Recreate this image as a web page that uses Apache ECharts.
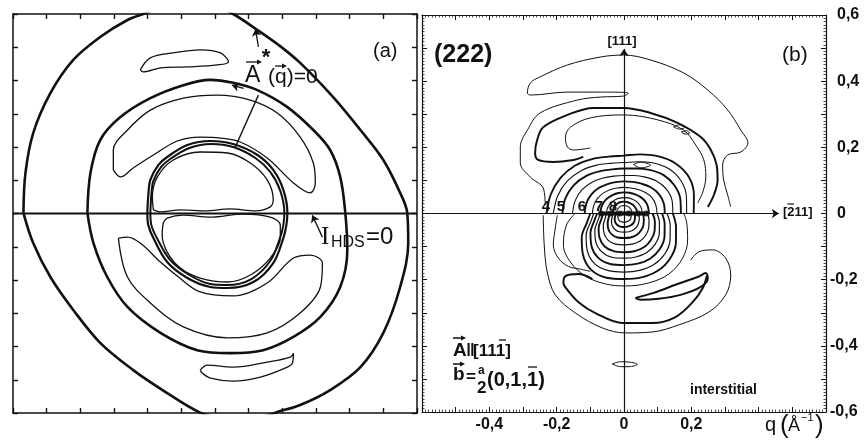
<!DOCTYPE html>
<html>
<head>
<meta charset="utf-8">
<script src="https://cdn.jsdelivr.net/npm/echarts@6/dist/echarts.min.js"></script>
<style>
html,body{margin:0;padding:0;background:#fff}
#chart{width:864px;height:444px}
</style>
</head>
<body>
<div id="chart"></div>
<script>
// ---------- panel (a): contour lines, in units of the tick spacing ----------
const curveOuter = [[-5.69,0.02],[-5.63,1.22],[-5.40,2.42],[-4.89,3.62],[-4.21,4.62],[-3.41,5.31],[-2.60,5.82],[-2.13,6.0],[-1.48,6.24],[-0.73,6.33],[0.01,6.24],[0.54,6.0],[1.26,5.52],[1.9,5.06],[2.53,4.53],[3.51,3.50],[4.32,2.51],[5.00,1.61],[5.50,0.62],[5.71,0.02],[5.74,-0.89],[5.50,-2.21],[5.00,-3.59],[4.32,-4.62],[3.42,-5.31],[2.53,-5.76],[1.85,-5.97],[1.49,-6.09],[0.90,-6.18],[0.16,-6.15],[-0.44,-5.99],[-1.42,-5.40],[-2.43,-4.71],[-3.41,-3.89],[-4.21,-2.90],[-4.89,-1.91],[-5.40,-0.89]];
const curveMiddle = [[-3.79,0.02],[-3.70,1.22],[-3.41,2.21],[-2.81,2.90],[-1.92,3.47],[-0.94,3.86],[-0.14,4.02],[0.54,3.93],[1.26,3.71],[2.15,3.20],[2.92,2.51],[3.42,1.91],[3.72,1.10],[3.87,0.02],[3.93,-1.10],[3.72,-2.21],[3.13,-3.11],[2.33,-3.71],[1.43,-4.11],[0.45,-4.20],[-0.53,-4.11],[-1.62,-3.59],[-2.60,-2.81],[-3.20,-1.91],[-3.61,-0.89]];
const ringOuter = [[-2.01,0.02],[-1.98,0.56],[-1.92,1.01],[-1.68,1.46],[-1.42,1.70],[-0.82,2.06],[-0.14,2.18],[0.54,2.09],[1.26,1.76],[1.73,1.31],[2.03,0.71],[2.15,0.02],[2.12,-0.35],[2.03,-0.74],[1.73,-1.49],[1.14,-2.06],[0.37,-2.24],[-0.14,-2.21],[-0.82,-1.94],[-1.42,-1.46],[-1.83,-0.74],[-1.98,-0.35]];
const ringInner = [[-1.92,0.02],[-1.89,0.56],[-1.83,0.98],[-1.60,1.40],[-1.33,1.64],[-0.76,1.97],[-0.11,2.09],[0.54,2.00],[1.20,1.67],[1.64,1.25],[1.94,0.68],[2.06,0.02],[2.03,-0.35],[1.94,-0.71],[1.64,-1.43],[1.08,-1.97],[0.37,-2.15],[-0.14,-2.12],[-0.76,-1.85],[-1.33,-1.40],[-1.74,-0.71],[-1.89,-0.35]];
const coreUpper = [[-1.83,0.11],[-1.86,0.50],[-1.71,1.10],[-1.24,1.61],[-0.44,1.85],[0.37,1.82],[1.05,1.52],[1.55,1.01],[1.73,0.41],[1.64,0.20],[1.20,0.08],[0.45,0.14],[-0.29,0.08],[-1.03,0.11],[-1.62,0.05]];
const coreLower = [[-1.54,-0.29],[-1.57,-0.65],[-1.42,-1.16],[-1.03,-1.64],[-0.44,-1.94],[0.37,-2.06],[1.05,-1.85],[1.64,-1.34],[1.94,-0.74],[1.94,-0.35],[1.64,-0.11],[0.84,-0.02],[-0.14,-0.11],[-0.94,-0.05],[-1.42,-0.14]];
const bandUpper = [[-3.02,1.31],[-3.02,1.91],[-2.60,2.51],[-1.92,3.11],[-0.94,3.47],[0.07,3.56],[1.05,3.41],[1.85,3.02],[2.53,2.30],[2.92,1.52],[2.98,0.92],[2.83,0.62],[2.33,0.92],[1.55,1.67],[0.75,2.15],[0.16,2.27],[-0.44,2.30],[-1.12,2.18],[-1.83,1.76],[-2.43,1.37],[-2.81,1.10]];
const bandLower = [[-2.87,-0.74],[-2.60,-1.91],[-1.92,-2.69],[-0.94,-3.41],[0.37,-3.74],[1.55,-3.59],[2.53,-2.99],[3.13,-2.21],[3.19,-1.49],[2.83,-1.25],[2.33,-1.34],[1.55,-2.09],[0.54,-2.48],[-0.44,-2.36],[-1.12,-1.88],[-1.62,-1.46],[-2.22,-0.89],[-2.60,-0.71]];
const islandTop = [[-2.22,4.32],[-1.92,4.68],[-1.24,4.83],[-0.44,4.92],[0.16,4.83],[0.40,4.56],[0.07,4.47],[-0.82,4.41],[-1.62,4.38],[-2.13,4.26]];
const islandBottom = [[-0.44,-4.71],[-0.23,-4.56],[0.54,-4.62],[1.55,-4.47],[2.24,-4.32],[2.33,-4.20],[2.30,-4.50],[2.15,-4.62],[1.35,-4.92],[0.54,-5.04],[-0.14,-4.95],[-0.38,-4.80]];

// ---------- panel (b): contour lines in q (1/Å) ----------
const snakeUpper = [[0.317,0.020],[0.308,0.056],[0.296,0.101],[0.293,0.147],[0.308,0.177],[0.347,0.186],[0.368,0.213],[0.347,0.252],[0.308,0.313],[0.249,0.373],[0.177,0.425],[0.079,0.464],[-0.001,0.479],[-0.070,0.473],[-0.168,0.449],[-0.249,0.413],[-0.278,0.395],[-0.287,0.364],[-0.278,0.358],[-0.168,0.367],[-0.070,0.367],[0.013,0.364],[-0.001,0.355],[-0.070,0.352],[-0.138,0.343],[-0.249,0.304],[-0.287,0.252],[-0.308,0.201],[-0.308,0.153],[-0.278,0.110],[-0.240,0.077],[-0.234,0.026]];
const snakeLower = [[-0.240,-0.005],[-0.237,-0.095],[-0.228,-0.177],[-0.204,-0.246],[-0.144,-0.301],[-0.064,-0.346],[0.004,-0.361],[0.085,-0.358],[0.162,-0.337],[0.252,-0.298],[0.302,-0.246],[0.317,-0.186],[0.302,-0.135],[0.264,-0.110],[0.222,-0.116],[0.198,-0.141]];
const bandThick = [[-0.121,0.171],[-0.150,0.162],[-0.210,0.156],[-0.255,0.162],[-0.264,0.183],[-0.258,0.222],[-0.240,0.261],[-0.168,0.298],[-0.091,0.319],[-0.001,0.319],[0.079,0.304],[0.159,0.274],[0.228,0.231],[0.258,0.192],[0.275,0.147],[0.278,0.101],[0.267,0.056],[0.249,0.020]];
const bandThin = [[-0.100,0.198],[-0.150,0.192],[-0.168,0.201],[-0.174,0.231],[-0.159,0.261],[-0.100,0.289],[-0.001,0.298],[0.100,0.283],[0.177,0.252],[0.213,0.207],[0.237,0.162],[0.243,0.110],[0.234,0.065],[0.219,0.032]];
const wrapLower = [[-0.144,0.002],[-0.171,-0.035],[-0.180,-0.095],[-0.159,-0.147],[-0.115,-0.189],[-0.055,-0.213],[0.004,-0.219],[0.073,-0.210],[0.133,-0.183],[0.174,-0.135],[0.189,-0.080],[0.186,-0.026],[0.177,0.002]];
const wrapLeft = [[-0.198,-0.005],[-0.205,-0.050],[-0.210,-0.095],[-0.195,-0.135],[-0.165,-0.160],[-0.130,-0.168],[-0.100,-0.175]];
const troughArc = [[-0.094,-0.198],[-0.135,-0.183],[-0.174,-0.189],[-0.180,-0.210],[-0.168,-0.231],[-0.135,-0.268],[-0.085,-0.301],[-0.004,-0.331],[0.085,-0.331],[0.153,-0.313],[0.204,-0.268],[0.234,-0.225],[0.246,-0.189]];
const troughRight = [[0.034,-0.255],[0.088,-0.240],[0.159,-0.213],[0.219,-0.192],[0.243,-0.180],[0.249,-0.195],[0.228,-0.222],[0.168,-0.246],[0.103,-0.258],[0.049,-0.261]];
const lensBottom = [[-0.035,-0.455],[-0.010,-0.448],[0.015,-0.449],[0.040,-0.456],[0.015,-0.463],[-0.010,-0.463]];
const lensRim = [[0.147,0.262],[0.165,0.268],[0.180,0.260],[0.165,0.255]];
const lensRim2 = [[0.170,0.247],[0.185,0.250],[0.195,0.243],[0.182,0.240]];
const lensTop = [[0.028,0.148],[0.050,0.155],[0.079,0.146],[0.050,0.138]];
const coreDots = [[-0.068,0],[-0.040,0],[-0.012,0],[0.014,0],[0.042,0],[0.066,0]];

// Lobes around the origin: radius (1/Å) at each polar angle (deg)
const anglesUpper = [0,15,30,45,60,75,90,105,120,135,150,165,180];
const anglesLower = [180,195,210,225,240,255,270,285,300,315,330,345,360];
const lobesUpper = [
  [0.207,0.215,0.222,0.215,0.200,0.185,0.175,0.178,0.190,0.205,0.217,0.225,0.230],
  [0.186,0.192,0.196,0.190,0.176,0.162,0.154,0.157,0.168,0.182,0.195,0.204,0.210],
  [0.169,0.173,0.172,0.165,0.152,0.141,0.136,0.138,0.147,0.160,0.172,0.180,0.183],
  [0.145,0.148,0.146,0.138,0.127,0.119,0.115,0.117,0.124,0.134,0.144,0.150,0.153],
  [0.121,0.122,0.119,0.112,0.104,0.099,0.097,0.098,0.102,0.108,0.113,0.116,0.117],
  [0.098,0.098,0.096,0.090,0.084,0.080,0.079,0.080,0.083,0.087,0.091,0.093,0.094],
  [0.074,0.074,0.073,0.070,0.067,0.065,0.064,0.064,0.065,0.067,0.069,0.070,0.070],
  [0.054,0.054,0.053,0.052,0.050,0.049,0.048,0.048,0.049,0.050,0.051,0.052,0.052],
  [0.039,0.039,0.038,0.037,0.036,0.036,0.036,0.036,0.036,0.035,0.035,0.034,0.034],
  [0.024,0.024,0.024,0.024,0.024,0.024,0.024,0.024,0.024,0.023,0.023,0.022,0.022]
];
const lobesLower = [
  [0.100,0.115,0.145,0.173,0.196,0.201,0.198,0.200,0.200,0.193,0.178,0.160,0.145],
  [0.090,0.103,0.130,0.155,0.175,0.179,0.177,0.178,0.178,0.172,0.158,0.142,0.128],
  [0.080,0.092,0.115,0.137,0.154,0.158,0.156,0.157,0.157,0.151,0.139,0.125,0.113],
  [0.070,0.080,0.100,0.119,0.133,0.137,0.135,0.136,0.136,0.131,0.121,0.109,0.098],
  [0.062,0.070,0.087,0.103,0.115,0.118,0.117,0.118,0.118,0.113,0.105,0.095,0.085],
  [0.052,0.058,0.071,0.084,0.094,0.096,0.095,0.096,0.096,0.092,0.085,0.077,0.070],
  [0.042,0.047,0.056,0.066,0.073,0.075,0.074,0.075,0.075,0.072,0.067,0.061,0.055],
  [0.033,0.036,0.043,0.050,0.055,0.057,0.056,0.057,0.057,0.055,0.051,0.047,0.042],
  [0.025,0.027,0.032,0.037,0.040,0.041,0.041,0.041,0.041,0.040,0.037,0.034,0.031],
  [0.017,0.018,0.021,0.024,0.026,0.026,0.026,0.026,0.026,0.026,0.024,0.022,0.020]
];

// tick labels shown on panel (b), in tenths of 1/Å
const bottomLabelTenths = [-4,-2,0,2];
const rightLabelTenths = [-6,-4,-2,0,2,4,6];

const INK = '#111';
const FONT = '"Liberation Sans", Arial, sans-serif';

function polar(radii, angles) {
  return radii.map((r, i) => {
    const a = angles[i] * Math.PI / 180;
    return [r * Math.cos(a), r * Math.sin(a)];
  });
}

function curve(pts, width, panel, closed) {
  return {
    type: 'line',
    xAxisIndex: panel === 0 ? 0 : 2,
    yAxisIndex: panel === 0 ? 0 : 2,
    data: closed ? pts.concat([pts[0]]) : pts,
    symbol: 'none', showSymbol: false, smooth: 0.35,
    lineStyle: { color: INK, width: width },
    silent: true, animation: false, z: 3
  };
}

function arrows(list, panel, withHead, width) {
  return {
    type: 'lines', coordinateSystem: 'cartesian2d',
    xAxisIndex: panel === 0 ? 0 : 2, yAxisIndex: panel === 0 ? 0 : 2,
    symbol: withHead ? ['none', 'arrow'] : ['none', 'none'], symbolSize: 7,
    lineStyle: { color: INK, width: width, opacity: 1 },
    data: list.map(c => ({ coords: c })), silent: true, animation: false, z: 4
  };
}

function tenthsLabel(k) {
  if (k === 0) return '0';
  return (k < 0 ? '-' : '') + '0,' + Math.abs(k);
}

function frameAxis(gridIndex, position, min, max, interval, isB) {
  const ax = {
    type: 'value', gridIndex: gridIndex, position: position,
    min: min, max: max, interval: interval,
    axisLine: { show: true, onZero: false, lineStyle: { color: INK, width: isB ? 1.2 : 1.5 } },
    splitLine: { show: false },
    axisLabel: { show: false },
    axisTick: { show: true, inside: true, length: 5, lineStyle: { color: INK, width: isB ? 1 : 1.4 } }
  };
  if (isB) {
    ax.minorTick = { show: true, splitNumber: 10, length: 2.5, lineStyle: { color: '#222', width: 0.8 } };
  }
  return ax;
}

const xBottomB = frameAxis(1, 'bottom', -0.6, 0.6, 0.1, true);
xBottomB.axisLabel = {
  show: true, margin: 5, color: INK, fontFamily: FONT, fontWeight: 'bold', fontSize: 16,
  formatter: v => { const k = Math.round(v * 10); return bottomLabelTenths.includes(k) ? tenthsLabel(k) : ''; }
};
const yRightB = frameAxis(1, 'right', -0.6, 0.6, 0.1, true);
yRightB.axisLabel = {
  show: true, margin: 4, color: INK, fontFamily: FONT, fontWeight: 'bold', fontSize: 16,
  showMinLabel: true, showMaxLabel: true,
  formatter: v => {
    const k = Math.round(v * 10);
    if (!rightLabelTenths.includes(k)) return '';
    return (k < 0 ? '{n|' : '{p|') + tenthsLabel(k) + '}';
  },
  rich: {
    n: { fontFamily: FONT, fontWeight: 'bold', fontSize: 16, color: INK },
    p: { fontFamily: FONT, fontWeight: 'bold', fontSize: 16, color: INK, padding: [0, 0, 0, 7] }
  }
};

const series = [];
// panel (a)
series.push(curve([[-6, 0], [6, 0]], 2, 0, false));
series.push(curve(curveOuter, 2.6, 0, true));
series.push(curve(curveMiddle, 2.6, 0, true));
series.push(curve(ringOuter, 2.2, 0, true));
series.push(curve(ringInner, 2.0, 0, true));
series.push(curve(coreUpper, 1.3, 0, true));
series.push(curve(coreLower, 1.3, 0, true));
series.push(curve(bandUpper, 1.3, 0, true));
series.push(curve(bandLower, 1.3, 0, true));
series.push(curve(islandTop, 1.3, 0, true));
series.push(curve(islandBottom, 1.3, 0, true));
series.push(arrows([[[1.29, 3.56], [0.60, 1.99]]], 0, false, 1.4));
series.push(arrows([[[1.29, 5.01], [1.20, 5.55]], [[3.19, -0.71], [2.89, -0.05]], [[0.85, 3.76], [0.50, 3.86]]], 0, true, 1.3));

// panel (b)
series.push(arrows([[[-0.6, 0], [0.46, 0]], [[0, -0.6], [0, 0.497]]], 1, true, 1.2));
series.push(curve(snakeUpper, 1.0, 1, false));
series.push(curve(snakeLower, 1.0, 1, false));
series.push(curve(bandThick, 2.0, 1, false));
series.push(curve(bandThin, 1.0, 1, false));
series.push(curve(wrapLower, 1.0, 1, false));
series.push(curve(wrapLeft, 1.0, 1, false));
series.push(curve(troughArc, 2.0, 1, false));
series.push(curve(troughRight, 2.0, 1, true));
series.push(curve(lensBottom, 1.0, 1, true));
series.push(curve(lensRim, 1.0, 1, true));
series.push(curve(lensRim2, 1.0, 1, true));
series.push(curve(lensTop, 1.0, 1, true));
lobesUpper.forEach((r, i) => series.push(curve(polar(r, anglesUpper), i % 2 === 0 ? 1.9 : 1.1, 1, false)));
lobesLower.forEach((r, i) => series.push(curve(polar(r, anglesLower), i % 2 === 0 ? 1.9 : 1.2, 1, false)));
series.push(curve([[-0.075, 0], [0.075, 0]], 4, 1, false));
series.push({
  type: 'scatter', xAxisIndex: 2, yAxisIndex: 2, data: coreDots,
  symbolSize: 6, itemStyle: { color: INK }, silent: true, animation: false, z: 5
});

function txt(x, y, text, size, opts) {
  opts = opts || {};
  return {
    type: 'text', x: x, y: y, z: 100, silent: true,
    style: {
      text: text, fill: INK,
      font: (opts.weight || 'normal') + ' ' + size + 'px ' + (opts.family || FONT),
      textAlign: opts.align || 'left', textVerticalAlign: 'middle'
    }
  };
}
function seg(x1, y1, x2, y2, w) {
  return { type: 'line', z: 100, silent: true, shape: { x1: x1, y1: y1, x2: x2, y2: y2 }, style: { stroke: INK, lineWidth: w || 1.3 } };
}
function head(x, y) {
  return { type: 'polygon', z: 100, silent: true, shape: { points: [[x, y], [x - 5, y - 2.5], [x - 5, y + 2.5]] }, style: { fill: INK } };
}

const graphic = [
  // panel (a)
  txt(373, 51, '(a)', 20),
  txt(245, 76, 'A', 23),
  txt(268, 77, '(q)=0', 21),
  seg(246, 62, 258, 62), head(262, 62),
  seg(275, 66, 283, 66), head(287, 66),
  txt(266, 58, '*', 22, { weight: 'bold', align: 'center' }),
  txt(321, 237, 'I', 25, { family: '"Liberation Serif", serif' }),
  txt(331, 243, 'HDS', 16),
  txt(366, 237, '=0', 24),
  // panel (b)
  txt(434, 55, '(222)', 25, { weight: 'bold' }),
  txt(782, 55, '(b)', 21),
  txt(622, 41, '[111]', 13, { weight: 'bold', align: 'center' }),
  txt(783, 212, '[211]', 13, { weight: 'bold' }),
  seg(787.5, 204, 794, 204, 1.2),
  txt(546, 207, '4', 15, { weight: 'bold', align: 'center' }),
  txt(561, 207, '5', 15, { weight: 'bold', align: 'center' }),
  txt(582, 207, '6', 15, { weight: 'bold', align: 'center' }),
  txt(599, 207, '7', 15, { weight: 'bold', align: 'center' }),
  txt(613, 207, '8', 15, { weight: 'bold', align: 'center' }),
  txt(453, 351, 'A', 19, { weight: 'bold' }),
  seg(453, 338, 462, 338, 1.5), head(466, 338),
  txt(466, 351, '\u2016', 18, { weight: 'bold' }),
  txt(473, 351, '[111]', 17, { weight: 'bold' }),
  seg(499, 340, 506, 340, 1.3),
  txt(453, 375, 'b', 19, { weight: 'bold' }),
  seg(453, 364, 461, 364, 1.5), head(465, 364),
  txt(466, 377, '=', 17, { weight: 'bold' }),
  txt(478, 371, 'a', 12, { weight: 'bold' }),
  txt(477, 388, '2', 17, { weight: 'bold' }),
  txt(487, 380, '(0,1,1)', 20, { weight: 'bold' }),
  seg(528, 367, 537, 367, 1.3),
  txt(690, 390, 'interstitial', 14, { weight: 'bold' }),
  txt(765, 425, 'q', 20),
  txt(780, 426, '(', 26),
  txt(788, 426, '\u00C5', 18),
  txt(801, 418, '\u22121', 11),
  txt(815, 426, ')', 26)
];

const chart = echarts.init(document.getElementById('chart'), null, { renderer: 'canvas' });
chart.setOption({
  backgroundColor: '#fff',
  animation: false,
  grid: [
    { left: 13, top: 14, width: 404, height: 399 },
    { left: 422, top: 15, width: 404, height: 397 }
  ],
  xAxis: [
    frameAxis(0, 'bottom', -6, 6, 1, false),
    frameAxis(0, 'top', -6, 6, 1, false),
    xBottomB,
    frameAxis(1, 'top', -0.6, 0.6, 0.1, true)
  ],
  yAxis: [
    frameAxis(0, 'left', -6, 6, 1, false),
    frameAxis(0, 'right', -6, 6, 1, false),
    frameAxis(1, 'left', -0.6, 0.6, 0.1, true),
    yRightB
  ],
  series: series,
  graphic: graphic
});
</script>
</body>
</html>
